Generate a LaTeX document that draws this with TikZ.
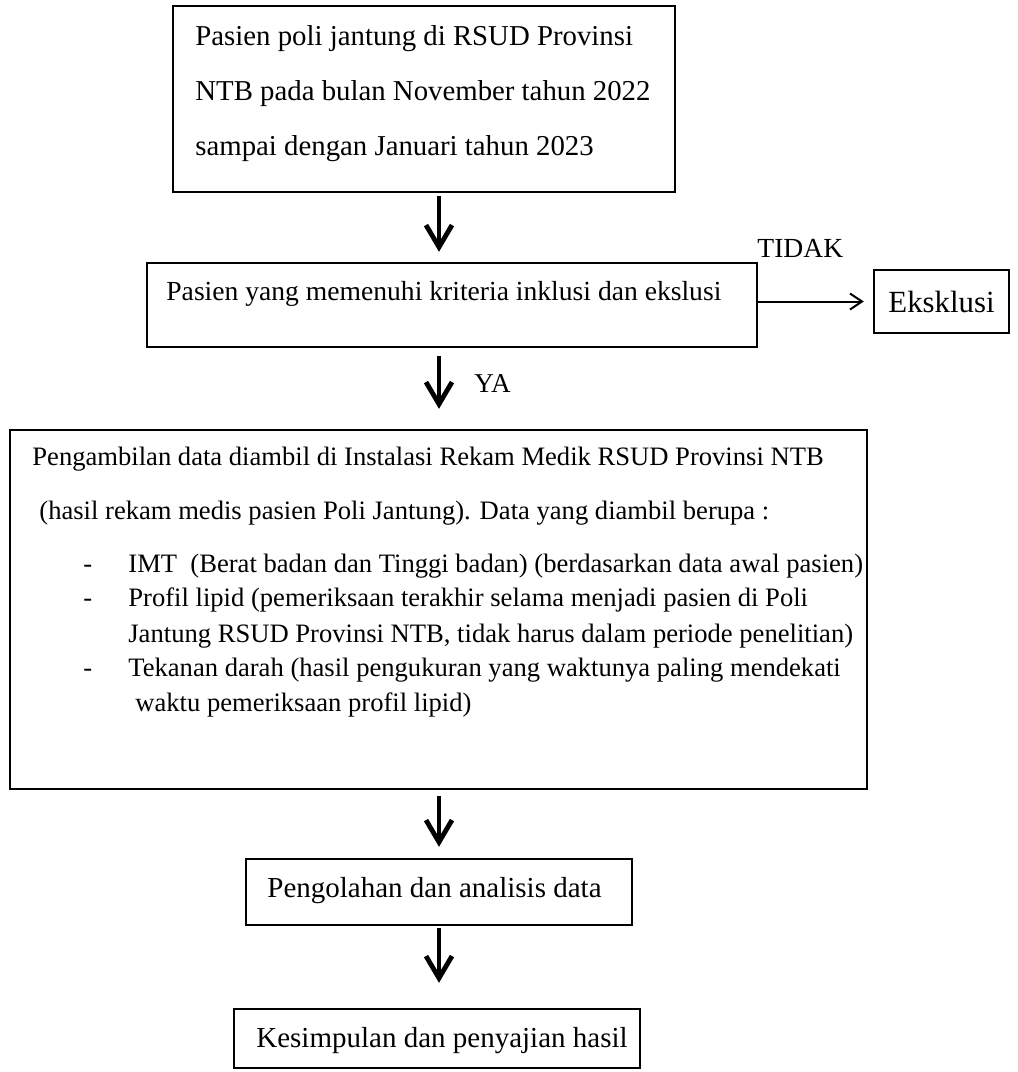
\documentclass[tikz,border=0pt]{standalone}
\usepackage{fontspec}
\setmainfont{Liberation Serif}
\usetikzlibrary{arrows.meta}

\begin{document}
\begin{tikzpicture}[x=0.5pt, y=-0.5pt,
        box/.style={draw, line width=1.2pt, inner sep=0pt},
        txt/.style={anchor=base west, inner sep=0pt},
        down/.style={line width=2.4pt, -{Straight Barb[length=11pt,width=13pt,line width=2.4pt]}},
        side/.style={line width=1pt, -{Straight Barb[length=6pt,width=8pt]}}]
        \useasboundingbox (0,0) rectangle (1018,1072);

        % Boxes
        \node[box, minimum width=251pt, minimum height=93pt] (b1) at (424,99) {};
        \node[box, minimum width=305pt, minimum height=42pt] (b2) at (452,305) {};
        \node[box, minimum width=67.5pt, minimum height=31.5pt, font=\fontsize{15.4}{17}\selectfont] (ex) at (941.5,301.5) {Eksklusi};
        \node[box, minimum width=428.5pt, minimum height=179.5pt] (b3) at (438.5,609.5) {};
        \node[box, minimum width=193pt, minimum height=33pt] (b4) at (439,892) {};
        \node[box, minimum width=203pt, minimum height=29.5pt] (b5) at (437,1038.5) {};

        % Texts
        \begin{scope}[font=\fontsize{14.4}{16}\selectfont]
        \node[txt] (t1a) at (195,45) {Pasien poli jantung di RSUD Provinsi};
        \node[txt] (t1b) at (195,100) {NTB pada bulan November tahun 2022};
        \node[txt] (t1c) at (195,155) {sampai dengan Januari tahun 2023};
        \end{scope}
        \node[txt, font=\fontsize{13.8}{15}\selectfont] (t2) at (166,300) {Pasien yang memenuhi kriteria inklusi dan ekslusi};
        \node[txt, font=\fontsize{13.8}{15}\selectfont] (tidak) at (757,257) {TIDAK};
        \node[txt, font=\fontsize{13.6}{15}\selectfont] (ya) at (474,392) {YA};
        \begin{scope}[font=\fontsize{13.3}{15}\selectfont]
        \node[txt] (t3a) at (32,465) {Pengambilan data diambil di Instalasi Rekam Medik RSUD Provinsi NTB};
        \node[txt] (t3b) at (39,519) {(hasil rekam medis pasien Poli Jantung). Data yang diambil berupa :};
        \node[txt] (d1) at (83,572) {-};
        \node[txt] (t3c) at (128,572) {IMT\ \ (Berat badan dan Tinggi badan) (berdasarkan data awal pasien)};
        \node[txt] (d2) at (83,606) {-};
        \node[txt] (t3d) at (128,606) {Profil lipid (pemeriksaan terakhir selama menjadi pasien di Poli};
        \node[txt] (t3e) at (128,642) {Jantung RSUD Provinsi NTB, tidak harus dalam periode penelitian)};
        \node[txt] (d3) at (83,676) {-};
        \node[txt] (t3f) at (128,676) {Tekanan darah (hasil pengukuran yang waktunya paling mendekati};
        \node[txt] (t3g) at (135,711) {waktu pemeriksaan profil lipid)};
        \end{scope}
        \node[txt, font=\fontsize{14.5}{16}\selectfont] (t4) at (267,897) {Pengolahan dan analisis data};
        \node[txt, font=\fontsize{14.5}{16}\selectfont] (t5) at (256,1047) {Kesimpulan dan penyajian hasil};

        % Arrows
        \coordinate (axis) at (439,0);
        \draw[down, shorten <=1.5pt, shorten >=5pt] (b1.south -| axis) -- (b2.north -| axis);
        \draw[down, shorten <=4pt, shorten >=10pt] (b2.south -| axis) -- (b3.north -| axis);
        \draw[down, shorten <=3pt, shorten >=5.5pt] (b3.south -| axis) -- (b4.north -| axis);
        \draw[down, shorten <=1pt, shorten >=12.5pt] (b4.south -| axis) -- (b5.north -| axis);
        \draw[side, shorten >=4.5pt] (b2.east |- ex) -- (ex);
    \end{tikzpicture}
\end{document}
